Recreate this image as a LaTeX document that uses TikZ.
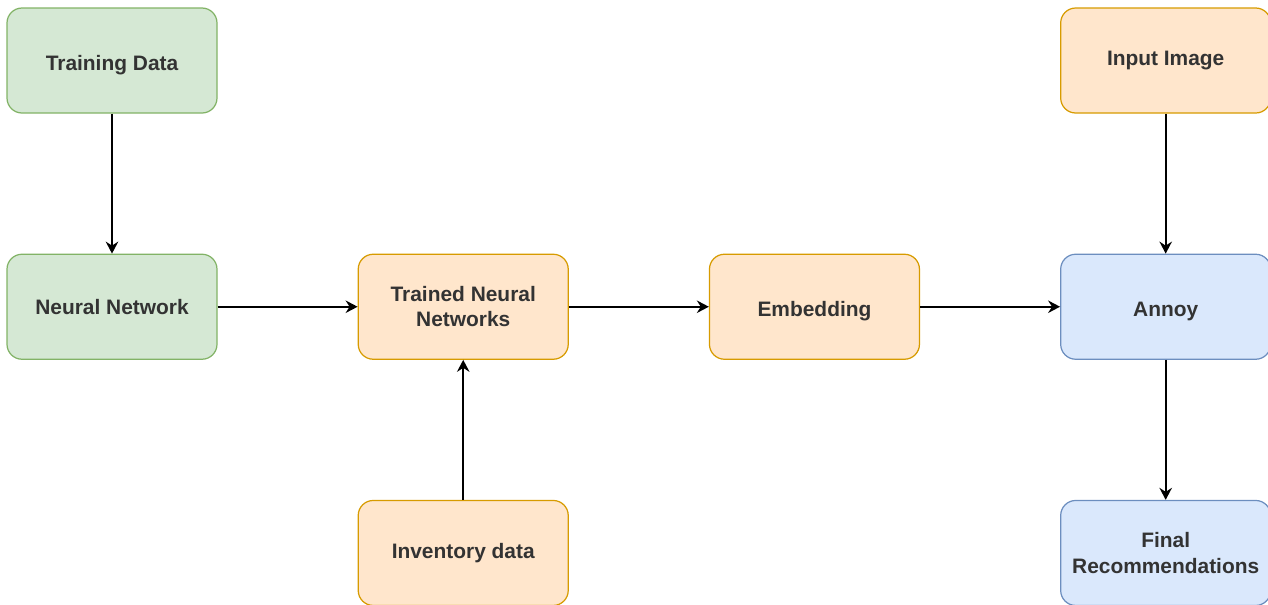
\documentclass[tikz,border=0pt]{standalone}
\usepackage{fontspec}
\setmainfont{Liberation Sans}
\usepackage{xcolor}
\usetikzlibrary{arrows.meta,positioning}

\definecolor{greenfill}{HTML}{D5E8D4}
\definecolor{greenline}{HTML}{82B366}
\definecolor{orangefill}{HTML}{FFE6CC}
\definecolor{orangeline}{HTML}{D79B00}
\definecolor{bluefill}{HTML}{DAE8FC}
\definecolor{blueline}{HTML}{6C8EBF}

\tikzset{
  box/.style = {rectangle, rounded corners=0.3cm, line width=0.7pt,
    minimum width=4.2cm, minimum height=2.1cm, align=center,
    font=\fontsize{11.9}{14.5}\selectfont\bfseries, text=black!80},
  greenbox/.style = {box, fill=greenfill, draw=greenline},
  orangebox/.style = {box, fill=orangefill, draw=orangeline},
  bluebox/.style = {box, fill=bluefill, draw=blueline},
  lowtext/.style = {text height=0.5cm, text depth=0.09cm},
  flow/.style = {-{Stealth[length=0.24cm,width=0.25cm,inset=0.08cm]}, line width=1pt}
}

\begin{document}
\begin{tikzpicture}
\useasboundingbox (0,0) rectangle (25.36,-12.08);
% left column
\node[greenbox, lowtext] (train) at (2.24,-1.21) {Training Data};
\node[greenbox, below=2.8cm of train] (nn) {Neural Network};
% middle
\node[orangebox, right=2.8cm of nn] (trained) {Trained Neural\\Networks};
\node[orangebox, below=2.8cm of trained] (inv) {Inventory data};
\node[orangebox, lowtext, right=2.8cm of trained] (emb) {Embedding};
% right column
\node[bluebox, lowtext, right=2.8cm of emb] (annoy) {Annoy};
\node[orangebox, above=2.8cm of annoy] (img) {Input Image};
\node[bluebox, below=2.8cm of annoy] (final) {Final\\Recommendations};

\draw[flow] (train) -- (nn);
\draw[flow] (nn) -- (trained);
\draw[flow] (inv) -- (trained);
\draw[flow] (trained) -- (emb);
\draw[flow] (emb) -- (annoy);
\draw[flow] (img) -- (annoy);
\draw[flow] (annoy) -- (final);
\end{tikzpicture}
\end{document}
